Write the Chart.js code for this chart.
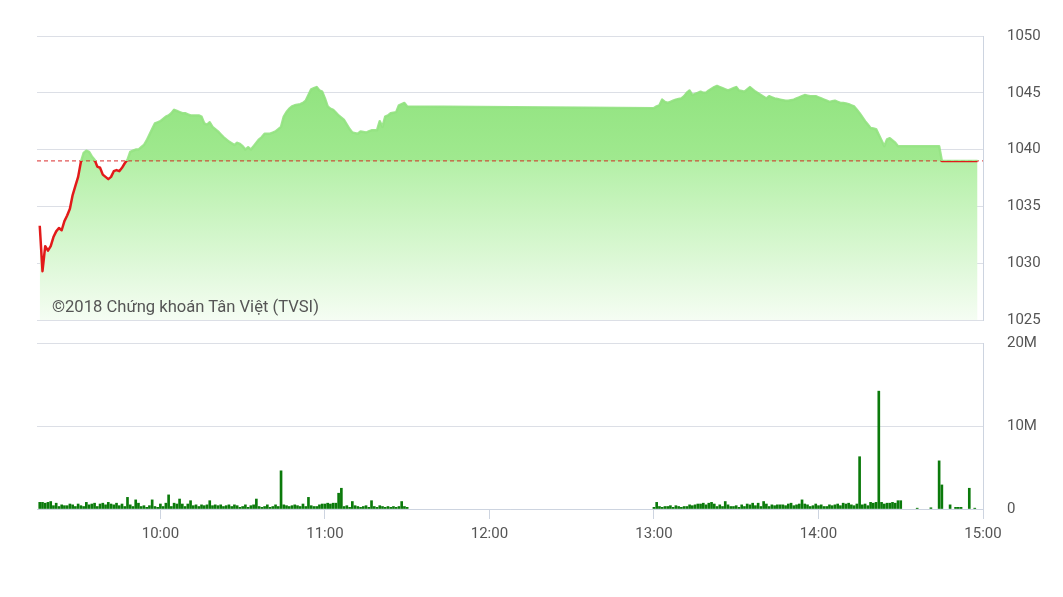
<!DOCTYPE html>
<html>
<head>
<meta charset="utf-8">
<script src="https://cdn.jsdelivr.net/npm/chart.js@4"></script>
<style>
  html, body { margin: 0; padding: 0; background: #fff; }
  #wrap { position: relative; width: 1063px; height: 597px; overflow: hidden; }
  #priceChart { position: absolute; left: 0; top: 0; }
  #volChart { position: absolute; left: 0; top: 330px; }
  #mark { position: absolute; left: 52px; top: 296px; font: 16.6px Roboto, sans-serif; line-height: 22px; color: #555; white-space: nowrap; }
</style>
</head>
<body>
<div id="wrap">
  <canvas id="priceChart" width="1063" height="330"></canvas>
  <canvas id="volChart" width="1063" height="267"></canvas>
  <div id="mark">©2018 Chứng khoán Tân Việt (TVSI)</div>
</div>
<script>
// data
const REF = 1039.0;
const xTicks = ['10:00', '11:00', '12:00', '13:00', '14:00', '15:00'];
const priceTicks = [1025, 1030, 1035, 1040, 1045, 1050];
const volTicks = [0, 10, 20]; // millions

// price, one point a minute from 9:16 to 11:30
const morningStart = '9:16';
const priceMorning = [
  1033.3, 1029.3, 1031.5, 1031.1, 1031.5, 1032.3, 1032.8, 1033.1, 1032.9, 1033.7, 1034.2, 1034.8, 1036.0, 1036.8, 1037.6,
  1038.9, 1039.7, 1039.9, 1039.8, 1039.4, 1039.1, 1038.5, 1038.4, 1037.8, 1037.6, 1037.4, 1037.6, 1038.1, 1038.2, 1038.1,
  1038.4, 1038.8, 1039.1, 1039.8, 1039.9, 1040.0, 1040.0, 1040.2, 1040.4, 1040.8, 1041.3, 1041.8, 1042.3, 1042.4, 1042.5,
  1042.7, 1042.9, 1043.0, 1043.2, 1043.5, 1043.4, 1043.3, 1043.2, 1043.2, 1043.1, 1043.0, 1043.0, 1043.0, 1043.0, 1042.9,
  1042.3, 1042.2, 1042.4, 1042.0, 1041.8, 1041.6, 1041.35, 1041.1, 1040.9, 1040.7, 1040.55, 1040.4, 1040.6, 1040.5, 1040.3,
  1040.0, 1040.2, 1040.0, 1040.3, 1040.6, 1040.9, 1041.1, 1041.4, 1041.4, 1041.4, 1041.5, 1041.6, 1041.8, 1042.0, 1042.9,
  1043.3, 1043.6, 1043.8, 1043.9, 1043.95, 1044.0, 1044.1, 1044.3, 1044.8, 1045.3, 1045.4, 1045.5, 1045.2, 1045.1, 1044.5,
  1043.8, 1043.6, 1043.5, 1043.25, 1043.0, 1042.8, 1042.6, 1042.2, 1041.8, 1041.5, 1041.45, 1041.4, 1041.6, 1041.55, 1041.5,
  1041.6, 1041.7, 1041.7, 1041.7, 1042.5, 1042.0, 1042.9, 1043.0, 1043.2, 1043.25, 1043.3, 1043.9, 1044.0, 1044.1, 1043.8
];
// price, one point a minute from 13:00 to 14:29
const afternoonStart = '13:00';
const priceAfternoon = [
  1043.65, 1043.8, 1043.9, 1044.4, 1044.2, 1044.1, 1044.2, 1044.3, 1044.4, 1044.45, 1044.5, 1044.7, 1045.0, 1045.2, 1044.8,
  1044.9, 1045.0, 1045.1, 1045.0, 1045.0, 1045.2, 1045.35, 1045.5, 1045.6, 1045.5, 1045.4, 1045.3, 1045.2, 1045.3, 1045.4,
  1045.5, 1045.2, 1045.15, 1045.1, 1045.3, 1045.5, 1045.3, 1045.1, 1044.95, 1044.8, 1044.65, 1044.5, 1044.7, 1044.6, 1044.5,
  1044.45, 1044.4, 1044.35, 1044.3, 1044.3, 1044.35, 1044.4, 1044.5, 1044.6, 1044.7, 1044.8, 1044.75, 1044.7, 1044.7, 1044.7,
  1044.6, 1044.5, 1044.4, 1044.3, 1044.2, 1044.25, 1044.3, 1044.2, 1044.1, 1044.1, 1044.05, 1044.0, 1043.9, 1043.8, 1043.5,
  1043.2, 1042.85, 1042.5, 1042.2, 1041.9, 1041.85, 1041.8, 1041.3, 1040.8, 1040.3, 1040.9, 1041.0, 1040.8, 1040.6, 1040.3
];
const closeTimes = ['14:44', '14:45', '14:58'];
const priceClose = [1040.3, 1039.0, 1039.0];

// volume in millions, one bar a minute
const volMorning = [
  0.8, 0.8, 0.7, 0.8, 0.9, 0.4, 0.7, 0.3, 0.5, 0.4, 0.4, 0.6, 0.5, 0.3, 0.6,
  0.4, 0.3, 0.8, 0.5, 0.6, 0.7, 0.3, 0.6, 0.7, 0.5, 0.8, 0.6, 0.5, 0.7, 0.4,
  0.6, 0.3, 1.4, 0.5, 0.3, 1.1, 0.7, 0.3, 0.4, 0.2, 0.4, 1.1, 0.3, 0.2, 0.6,
  0.3, 0.7, 1.7, 0.3, 0.7, 0.6, 1.2, 0.6, 0.3, 0.6, 1.0, 0.4, 0.5, 0.3, 0.5,
  0.4, 0.5, 1.0, 0.4, 0.5, 0.4, 0.5, 0.3, 0.4, 0.5, 0.3, 0.5, 0.4, 0.2, 0.3,
  0.5, 0.2, 0.4, 0.5, 1.2, 0.3, 0.2, 0.3, 0.5, 0.2, 0.3, 0.5, 0.3, 4.6, 0.5,
  0.4, 0.3, 0.4, 0.5, 0.4, 0.3, 0.6, 0.3, 1.4, 0.4, 0.3, 0.3, 0.5, 0.6, 0.6,
  0.7, 0.6, 0.7, 0.7, 1.9, 2.5, 0.3, 0.4, 0.2, 0.9, 0.4, 0.3, 0.2, 0.3, 0.4,
  0.2, 1.0, 0.3, 0.2, 0.4, 0.3, 0.2, 0.3, 0.2, 0.3, 0.2, 0.3, 0.9, 0.3, 0.2
];
const volAfternoon = [
  0.2, 0.8, 0.3, 0.2, 0.3, 0.3, 0.4, 0.2, 0.4, 0.3, 0.2, 0.3, 0.3, 0.5, 0.4,
  0.5, 0.6, 0.6, 0.7, 0.5, 0.7, 0.8, 0.6, 0.3, 0.5, 0.3, 0.9, 0.5, 0.3, 0.3,
  0.4, 0.2, 0.5, 0.3, 0.6, 0.5, 0.7, 0.4, 0.7, 0.3, 0.9, 0.6, 0.3, 0.5, 0.4,
  0.5, 0.5, 0.5, 0.4, 0.6, 0.7, 0.4, 0.5, 0.6, 1.1, 0.6, 0.5, 0.3, 0.4, 0.6,
  0.4, 0.5, 0.3, 0.3, 0.5, 0.4, 0.5, 0.6, 0.4, 0.7, 0.6, 0.7, 0.5, 0.4, 0.6,
  6.3, 0.5, 0.6, 0.4, 0.8, 0.7, 0.8, 14.2, 0.8, 0.6, 0.7, 0.7, 0.8, 0.7, 1.0,
  1.0
];
const volCloseTimes = ['14:36', '14:41', '14:44', '14:45', '14:48', '14:50', '14:51', '14:52', '14:55', '14:57'];
const volClose = [0.1, 0.15, 5.8, 2.9, 0.5, 0.2, 0.2, 0.2, 2.5, 0.1];

// helpers
function toMin(t) {
  const p = t.split(':');
  return parseInt(p[0]) * 60 + parseInt(p[1]);
}
function fmtMin(m) {
  const h = Math.floor(m / 60), mm = m % 60;
  return h + ':' + (mm < 10 ? '0' : '') + mm;
}
function perMinute(start, values) {
  const s = toMin(start);
  return values.map((v, i) => ({x: s + i, y: v}));
}
function sparse(times, values) {
  return times.map((t, i) => ({x: toMin(t), y: values[i]}));
}

const X_MIN = toMin('9:15');
const X_MAX = toMin('15:00');
const pricePoints = perMinute(morningStart, priceMorning)
  .concat(perMinute(afternoonStart, priceAfternoon))
  .concat(sparse(closeTimes, priceClose));
const volPoints = perMinute(morningStart, volMorning)
  .concat(perMinute(afternoonStart, volAfternoon))
  .concat(sparse(volCloseTimes, volClose));

const GRID = '#dcdfe6';
const AXIS = '#cdd4e0';
const TICK_FONT = {family: 'Roboto', size: 15};
const TICK_COLOR = '#555';

// gradients, built once the chart area is known
function refStop(chart) {
  const a = chart.chartArea;
  const y = chart.scales.y.getPixelForValue(REF);
  return Math.min(1, Math.max(0, (y - a.top) / (a.bottom - a.top)));
}
function lineGradient(c) {
  const chart = c.chart;
  if (!chart.chartArea) return '#e21a1a';
  const a = chart.chartArea, t = refStop(chart);
  const g = chart.ctx.createLinearGradient(0, a.top, 0, a.bottom);
  g.addColorStop(0, 'rgba(138,222,120,0.9)');
  g.addColorStop(t, 'rgba(150,228,132,0.9)');
  g.addColorStop(t, '#e21a1a');
  g.addColorStop(1, '#e21a1a');
  return g;
}
function aboveGradient(c) {
  const chart = c.chart;
  if (!chart.chartArea) return 'rgba(0,0,0,0)';
  const a = chart.chartArea, t = refStop(chart);
  const g = chart.ctx.createLinearGradient(0, a.top, 0, a.bottom);
  g.addColorStop(0, 'rgb(136,224,118)');
  g.addColorStop(t, 'rgb(160,233,143)');
  g.addColorStop(t, 'rgba(255,255,255,0)');
  g.addColorStop(1, 'rgba(255,255,255,0)');
  return g;
}
function baseGradient(c) {
  const chart = c.chart;
  if (!chart.chartArea) return 'rgba(0,0,0,0)';
  const a = chart.chartArea, t = refStop(chart);
  const g = chart.ctx.createLinearGradient(0, a.top, 0, a.bottom);
  g.addColorStop(0, 'rgb(160,232,143)');
  g.addColorStop(t, 'rgb(180,240,167)');
  g.addColorStop(1, 'rgb(245,253,243)');
  return g;
}

// right-hand value axis: labels pushed out by an invisible tick mark
function rightAxis(min, max, ticks, fmt) {
  return {
    position: 'right', min: min, max: max,
    afterFit: function (scale) { scale.width = 80; },
    afterBuildTicks: function (scale) { scale.ticks = ticks.map(v => ({value: v})); },
    grid: {color: GRID, drawTicks: true, tickLength: 24, tickColor: 'rgba(0,0,0,0)'},
    border: {display: true, color: AXIS},
    ticks: {padding: 0, color: TICK_COLOR, font: TICK_FONT, callback: fmt}
  };
}

const priceChart = new Chart(document.getElementById('priceChart'), {
  type: 'line',
  data: {
    datasets: [
      {
        data: pricePoints, order: 0, fill: false,
        borderColor: lineGradient, borderWidth: 2.5,
        pointRadius: 0, tension: 0, borderJoinStyle: 'round'
      },
      {
        data: [{x: X_MIN, y: REF}, {x: X_MAX, y: REF}], order: 1, fill: false,
        borderColor: 'rgba(215,30,30,0.75)', borderWidth: 1.2, borderDash: [4, 3],
        pointRadius: 0
      },
      {
        data: pricePoints, order: 2,
        fill: {target: {value: REF}},
        backgroundColor: aboveGradient,
        borderColor: 'rgba(0,0,0,0)', borderWidth: 0, pointRadius: 0, tension: 0
      },
      {
        data: pricePoints, order: 3,
        fill: 'start',
        backgroundColor: baseGradient,
        borderColor: 'rgba(0,0,0,0)', borderWidth: 0, pointRadius: 0, tension: 0
      }
    ]
  },
  options: {
    responsive: false,
    devicePixelRatio: 1,
    animation: false,
    layout: {padding: {left: 37, top: 36, right: 0, bottom: 10}},
    plugins: {legend: {display: false}, tooltip: {enabled: false}},
    scales: {
      x: {type: 'linear', min: X_MIN, max: X_MAX, display: false},
      y: rightAxis(1025, 1050, priceTicks, function (v) { return String(v); })
    }
  }
});

const volChart = new Chart(document.getElementById('volChart'), {
  type: 'bar',
  data: {
    datasets: [{
      data: volPoints,
      backgroundColor: '#0b7a0b',
      barThickness: 2,
      borderWidth: 0
    }]
  },
  options: {
    responsive: false,
    devicePixelRatio: 1,
    animation: false,
    layout: {padding: {left: 37, top: 13, right: 0, bottom: 0}},
    plugins: {legend: {display: false}, tooltip: {enabled: false}},
    scales: {
      x: {
        type: 'linear', min: X_MIN, max: X_MAX, offset: false,
        afterFit: function (scale) { scale.height = 88; },
        afterBuildTicks: function (scale) { scale.ticks = xTicks.map(t => ({value: toMin(t)})); },
        grid: {offset: false, drawOnChartArea: false, drawTicks: true, tickLength: 10, tickColor: AXIS, color: AXIS},
        border: {display: true, color: AXIS},
        ticks: {padding: 6, color: TICK_COLOR, font: TICK_FONT, maxRotation: 0,
          callback: function (v) { return fmtMin(v); }}
      },
      y: rightAxis(0, 20, volTicks, function (v) { return v === 0 ? '0' : v + 'M'; })
    }
  }
});
</script>
</body>
</html>
